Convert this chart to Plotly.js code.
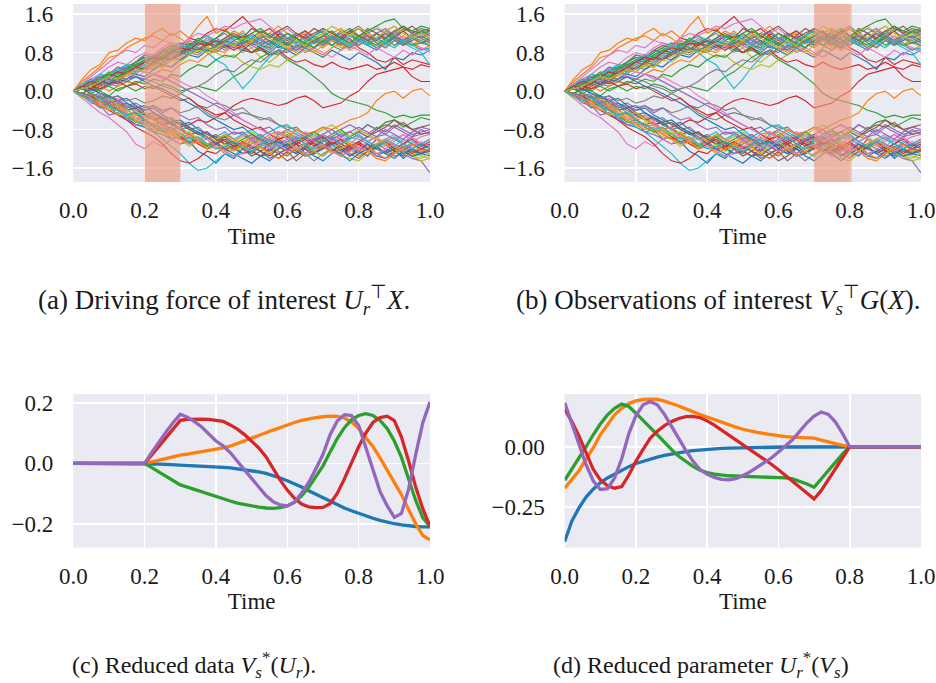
<!DOCTYPE html>
<html><head><meta charset="utf-8">
<script src="https://cdn.plot.ly/plotly-3.0.1.min.js"></script>
<style>html,body{margin:0;padding:0;background:#fff}#chart{width:936px;height:683px}</style>
</head><body><div id="chart"></div>
<script>
// ---------- data ----------
const walkTime = [0,0.025,0.05,0.075,0.1,0.125,0.15,0.175, 0.2,0.225,0.25,0.275,0.3,0.325,0.35,0.375, 0.4,0.425,0.45,0.475,0.5,0.525,0.55,0.575, 0.6,0.625,0.65,0.675,0.7,0.725,0.75,0.775, 0.8,0.825,0.85,0.875,0.9,0.925,0.95,0.975, 1.0];

const walkPaths = [
[0,-.1,-.2,-.35,-.3,-.5,-.55,-.7, -.75,-.85,-.8,-1.0,-1.1,-1.05,-1.25,-1.35, -1.5,-1.3,-1.4,-1.2,-1.3,-1.15,-1.25,-1.05, -1.2,-1.1,-1.3,-1.15,-1.0,-1.2,-1.3,-1.1, -1.25,-1.35,-1.15,-1.3,-1.2,-1.4,-1.25,-1.3, -1.2],
[0,.25,.45,.55,.8,.85,1.0,1.1, 1.05,1.2,1.3,1.15,1.25,1.1,1.35,1.55, 1.2,1.3,1.1,1.25,1.05,1.2,1.0,1.15, .95,1.1,1.2,1.0,.9,1.05,1.15,.95, 1.1,1.25,1.0,.9,1.05,1.15,1.0,.85, .95],
[0,.1,.2,.3,.25,.45,.5,.6, .7,.65,.8,.9,.85,1.0,.9,.8, .95,.85,1.0,.9,.8,.85,.75,.8, .65,.55,.45,.3,.15,-.05,-.15,-.2, -.25,-.3,-.4,-.45,-.55,-.5,-.55,-.5, -.5],
[0,-.05,-.15,-.1,-.3,-.35,-.5,-.45, -.6,-.7,-.65,-.8,-.75,-.7,-.6,-.65, -.55,-.45,-.3,-.2,-.15,-.2,-.25,-.3, -.25,-.15,-.1,-.2,-.35,-.3,-.25,-.1, 0.0,.2,.35,.4,.45,.5,.3,.2, .2],
[0,-.1,-.25,-.3,-.5,-.45,-.6,-.7, -.65,-.85,-.9,-1.0,-.95,-1.1,-1.0,-1.15, -1.05,-.95,-1.1,-1.2,-1.0,-1.15,-1.25,-1.1, -1.0,-1.2,-1.1,-1.3,-1.15,-1.05,-1.2,-1.35, -1.2,-1.1,-1.3,-1.25,-1.35,-1.3,-1.4,-1.45, -1.7],
[0,.05,.15,.3,.35,.5,.45,.6, .75,.7,.85,.95,.9,1.05,.95,1.1, 1.0,.9,1.05,1.15,1.0,1.1,.95,1.2, 1.1,1.0,1.15,1.3,1.2,1.05,1.15,1.25, 1.1,1.3,1.2,1.05,1.15,1.25,1.1,1.0, 1.1],
[0,-.15,-.3,-.45,-.55,-.7,-.85,-1.1, -1.2,-1.05,-1.15,-1.0,-1.1,-.95,-1.05,-1.2, -1.1,-.95,-1.05,-.9,-1.0,-1.15,-.95,-1.05, -1.2,-1.1,-.95,-1.05,-1.15,-1.0,-.9,-1.05, -1.1,-.95,-1.0,-1.15,-1.05,-.9,-1.0,-1.1, -1.0],
[0,.05,.1,0,.15,.1,.2,.15, .25,.2,.1,.05,-.05,-.15,-.3,-.45, -.55,-.6,-.5,-.45,-.5,-.55,-.6,-.7, -.75,-.8,-.9,-.85,-.95,-1.0,-.9,-.85, -.95,-1.05,-.95,-.9,-1.0,-1.1,-.95,-.9, -.85],
[0,.1,.05,.2,.3,.25,.4,.5, .55,.7,.65,.8,.9,.85,1.0,.9, 1.05,.95,.85,1.0,.9,.7,.6,.75, .85,.95,.8,.9,1.05,.95,1.1,1.25, 1.1,1.0,.9,1.05,1.15,1.0,.95,1.05, 1.1],
[0,-.1,-.05,-.2,-.35,-.4,-.55,-.6, -.75,-.85,-1.0,-1.15,-1.3,-1.5,-1.65,-1.6, -1.45,-1.3,-1.35,-1.2,-1.25,-1.1,-1.2,-1.05, -1.15,-1.0,-.95,-1.1,-1.0,-1.15,-1.05,-.95, -1.0,-1.1,-1.2,-1.05,-1.15,-1.0,-1.1,-1.2, -1.15],
[0,.1,.2,.15,.3,.4,.35,.5, .6,.55,.7,.8,.75,.9,.85,1.0, .9,1.05,.95,.85,1.0,.9,.8,.95, .85,.75,.9,.8,.7,.85,.75,.65, .8,.7,.6,.45,.7,.65,.8,.75, .85],
[0,-.05,-.15,-.25,-.2,-.35,-.45,-.55, -.6,-.75,-.7,-.85,-.95,-.9,-1.05,-1.15, -1.1,-1.25,-1.15,-1.2,-1.05,-1.15,-1.3,-1.2, -1.1,-1.25,-1.15,-1.0,-1.1,-1.2,-1.3,-1.2, -1.35,-1.25,-1.4,-1.45,-1.3,-1.2,-1.35,-1.25, -1.3],
[0,-.05,.05,0,-.1,.05,.1,0, .1,.05,.15,.1,0,.05,.1,.05, 0,.15,.3,.4,.55,.7,.8,.75, .9,.85,1.0,.9,1.05,.95,.85,1.0, 1.1,1.0,1.2,1.1,.95,1.05,1.15,1.25, 1.3],
[0,.05,.15,.2,.35,.3,.45,.55, .6,.75,.7,.85,.95,1.1,1.05,1.2, 1.3,1.25,1.4,1.55,1.35,1.2,1.3,1.15, 1.05,1.2,1.1,1.0,1.15,1.05,.95,1.1, .9,.8,.65,.6,.7,.55,.65,.6, .55],
[0,-.1,-.2,-.15,-.3,-.25,-.4,-.35, -.5,-.45,-.6,-.7,-.8,-.75,-.9,-.85, -1.0,-.95,-.85,-.9,-1.05,-.95,-1.1,-.9, -.8,-.9,-1.0,-.85,-.75,-.9,-.8,-.7, -.8,-.9,-.75,-.85,-.7,-.8,-.9,-.85, -.8],
[0,.05,-.05,-.15,-.1,-.25,-.35,-.3, -.45,-.55,-.7,-.65,-.8,-.9,-1.0,-1.1, -1.05,-1.2,-1.15,-1.3,-1.25,-1.35,-1.3,-1.4, -1.25,-1.45,-1.3,-1.2,-1.15,-1.0,-1.1,-.95, -.85,-.95,-.8,-.7,-.75,-.65,-.8,-.9, -.85],
[0,.15,.25,.35,.5,.6,.55,.7, .8,.75,.9,1.0,.95,1.1,1.2,1.15, 1.25,1.35,1.3,1.4,1.45,1.5,1.35,1.2, 1.3,1.15,1.25,1.1,1.2,1.05,1.15,1.0, 1.1,1.2,1.05,1.15,1.25,1.1,1.0,.9, .85],
[0,.05,.1,.2,.15,.3,.25,.4, .5,.45,.6,.7,.65,.8,.75,.9, .85,1.0,.95,1.1,1.0,1.15,1.05,.95, 1.1,1.2,1.05,1.15,1.3,1.2,1.1,1.25, 1.35,1.2,1.1,1.25,1.15,1.3,1.2,1.1, 1.2],
[0,-.15,-.1,-.25,-.35,-.3,-.45,-.6, -.55,-.75,-.85,-.95,-1.0,-1.15,-1.05,-1.2, -1.1,-1.0,-1.15,-1.05,-.95,-1.1,-1.0,-.85, -.95,-1.05,-.9,-1.0,-1.15,-1.25,-1.35,-1.4, -1.45,-1.3,-1.2,-1.1,-1.25,-1.15,-1.3,-1.35, -1.4],
[0,.1,.2,.35,.3,.4,.55,.5, .65,.6,.75,.85,.8,.95,.9,.8, .65,.55,.3,.05,.25,.5,.7,.85, .95,1.05,.9,1.0,1.1,.95,1.05,.9, 1.0,1.15,1.05,.95,1.1,1.0,.9,.8, .55],
[0,.05,0,.1,.2,.15,.25,.35, .3,.45,.55,.5,.65,.75,.7,.85, .8,.95,.9,1.0,1.1,.95,1.05,.9, 1.0,.85,.95,1.05,.95,1.1,1.0,.9, 1.05,.95,.85,1.0,1.1,.95,1.05,1.15, 1.05],
[0,.2,.35,.5,.7,.75,.9,1.0, 1.1,1.15,1.05,1.2,1.1,.95,1.05,1.15, 1.0,1.1,1.25,1.15,1.0,1.1,1.2,1.35, 1.2,1.1,1.25,1.15,1.05,1.2,1.3,1.15, 1.05,1.2,1.1,1.25,1.35,1.2,1.1,1.2, 1.15],
[0,-.05,-.2,-.3,-.25,-.4,-.5,-.65, -.6,-.75,-.85,-.8,-.95,-1.05,-1.0,-1.15, -1.05,-.95,-1.1,-1.0,-.9,-1.05,-1.15,-1.0, -.9,-1.05,-.95,-.85,-1.0,-.9,-.8,-.95, -.85,-.7,-.8,-.65,-.6,-.75,-.65,-.55, -.6],
[0,-.1,-.15,-.3,-.4,-.5,-.6,-.75, -.85,-.95,-1.1,-1.3,-1.45,-1.5,-1.4,-1.25, -1.3,-1.15,-1.2,-1.05,-1.15,-1.25,-1.1,-1.0, -1.15,-1.05,-.95,-1.1,-1.2,-1.05,-1.15,-1.25, -1.1,-1.2,-1.0,-1.1,-1.25,-1.15,-1.3,-1.2, -1.25],
[0,.1,.25,.2,.35,.5,.45,.6, .75,.7,.85,.8,.95,.9,1.05,.95, 1.1,1.0,.9,1.05,.95,.85,1.0,1.1, .95,.85,1.0,.9,1.05,1.15,1.0,.9, 1.05,.95,1.1,1.2,1.05,.95,1.1,1.25, 1.15],
[0,-.05,-.1,-.2,-.3,-.25,-.4,-.5, -.45,-.6,-.7,-.65,-.8,-.9,-.85,-1.0, -.9,-1.05,-1.15,-1.1,-1.25,-1.35,-1.2,-1.3, -1.45,-1.35,-1.2,-1.3,-1.15,-1.25,-1.1,-1.2, -1.05,-.95,-.85,-.75,-.6,-.7,-.8,-.75, -.7],
[0,.05,-.05,-.1,-.2,-.15,-.3,-.45, -.55,-.5,-.65,-.8,-.9,-.85,-1.0,-.95, -1.1,-1.2,-1.05,-1.15,-1.0,-.9,-1.05,-.95, -1.1,-1.0,-.85,-.95,-1.05,-.9,-1.0,-1.1, -.95,-1.05,-1.15,-1.0,-.9,-1.05,-.95,-1.1, -1.0],
[0,-.1,-.05,-.15,-.1,-.2,-.3,-.25, -.35,-.3,-.4,-.35,-.45,-.4,-.3,-.35, -.25,-.3,-.4,-.35,-.5,-.6,-.55,-.7, -.8,-.75,-.9,-1.0,-.95,-1.1,-1.0,-1.15, -1.05,-1.2,-1.1,-1.0,-1.15,-1.25,-1.1,-1.2, -1.15],
[0,.05,.15,.1,.25,.35,.3,.45, .55,.5,.65,.75,.7,.85,.95,.9, .8,.7,.75,.6,.5,.45,.55,.5, .65,.75,.85,.8,.95,1.05,.9,1.0, 1.1,1.25,1.35,1.2,1.1,1.0,1.15,1.05, .95],
[0,-.05,-.15,-.1,-.25,-.35,-.3,-.45, -.5,-.6,-.55,-.7,-.8,-.75,-.9,-1.0, -.95,-.85,-1.0,-.9,-.8,-.95,-.85,-.75, -.7,-.85,-.95,-.9,-1.05,-.95,-.85,-1.0, -.9,-1.05,-1.15,-1.0,-1.1,-1.2,-1.05,-1.15, -1.1],
[0,.1,.05,-.05,-.1,-.2,-.15,-.3, -.4,-.35,-.5,-.6,-.7,-.65,-.8,-.9, -.95,-1.1,-1.2,-1.3,-1.15,-1.25,-1.35,-1.2, -1.1,-1.25,-1.35,-1.3,-1.2,-1.1,-1.25,-1.15, -1.3,-1.2,-1.35,-1.4,-1.25,-1.35,-1.2,-1.3, -1.35],
[0,-.05,.05,.1,0,.1,.2,.15, .25,.35,.45,.4,.55,.65,.6,.75, .85,.8,.95,.9,1.05,.95,.85,1.0, .9,.8,.95,.85,.75,.9,1.0,.85, .95,1.05,.9,1.0,1.15,1.05,.95,1.1, 1.0],
[0,.1,.15,.25,.4,.35,.5,.6, .7,.65,.8,.9,1.0,.95,1.1,1.0, .9,1.05,1.15,1.0,1.1,1.25,1.15,1.05, 1.2,1.1,1.0,1.15,1.25,1.1,1.2,1.3, 1.15,1.25,1.35,1.45,1.5,1.3,1.25,1.35, 1.3],
[0,-.05,-.15,-.2,-.3,-.4,-.5,-.45, -.6,-.7,-.8,-.9,-1.0,-.95,-1.1,-1.2, -1.1,-1.0,-1.15,-1.05,-1.2,-1.1,-1.0,-1.15, -1.25,-1.1,-1.2,-1.05,-.95,-1.1,-1.0,-1.15, -1.05,-1.2,-1.1,-1.0,-1.15,-1.25,-1.1,-1.2, -1.1],
[0,.05,.1,.15,.1,.2,.25,.3, .25,.35,.3,.2,.1,0,-.1,-.2, -.3,-.4,-.5,-.6,-.7,-.8,-.75,-.9, -.85,-1.0,-.95,-1.05,-.9,-1.0,-1.1,-.95, -.85,-.7,-.8,-.9,-.75,-.85,-.95,-.8, -.9],
[0,.1,.05,.15,.25,.2,.35,.45, .4,.55,.5,.65,.75,.85,.8,.95, 1.05,1.0,1.15,1.1,1.2,1.05,.95,1.1, 1.0,1.15,1.25,1.1,1.0,1.15,1.05,1.2, 1.3,1.15,1.05,1.2,1.1,1.25,1.35,1.2, 1.1],
[0,.15,.3,.45,.6,.75,.85,.8, .95,.9,1.05,1.0,.9,1.05,.95,1.1, 1.0,.85,.95,.8,.9,1.0,.9,.75, .85,.95,.8,.9,.8,.7,.85,.95, .85,.75,.9,.8,.7,.85,.75,.9, .8],
[0,-.05,-.15,-.1,-.2,-.3,-.25,-.4, -.5,-.45,-.6,-.55,-.7,-.8,-.75,-.9, -1.0,-1.1,-1.05,-1.2,-1.1,-1.0,-1.15,-1.25, -1.35,-1.2,-1.3,-1.45,-1.3,-1.2,-1.35,-1.25, -1.15,-1.25,-1.1,-1.2,-1.3,-1.15,-1.25,-1.2, -1.25],
[0,-.1,-.2,-.3,-.35,-.5,-.45,-.6, -.7,-.65,-.8,-.9,-.85,-1.0,-.95,-1.1, -1.0,-.9,-1.05,-.95,-.85,-1.0,-1.1,-.95, -.85,-.95,-1.05,-.9,-.8,-.7,-.85,-.95, -.8,-.9,-1.0,-1.1,-1.2,-1.3,-1.35,-1.4, -1.3],
[0,.05,.15,.25,.2,.35,.45,.4, .55,.65,.6,.75,.85,.8,.95,1.05, 1.0,1.1,.95,1.05,1.15,1.05,.95,1.1, 1.2,1.05,.95,1.1,1.0,1.15,1.05,.95, 1.1,1.0,.9,1.05,1.15,1.0,1.1,1.05, .95],
[0,-.05,.05,-.05,-.15,-.1,-.25,-.35, -.3,-.45,-.55,-.65,-.6,-.75,-.85,-.95, -1.1,-1.2,-1.3,-1.4,-1.5,-1.35,-1.45,-1.3, -1.2,-1.3,-1.15,-1.25,-1.35,-1.2,-1.3,-1.45, -1.3,-1.2,-1.35,-1.25,-1.15,-1.3,-1.2,-1.1, -1.2],
[0,-.1,-.05,-.2,-.3,-.25,-.4,-.5, -.6,-.55,-.7,-.8,-.75,-.9,-1.0,-.95, -1.05,-.9,-1.0,-1.1,-.95,-1.05,-.9,-.85, -.95,-.8,-.9,-.85,-.75,-.8,-.7,-.6, -.55,-.45,-.2,-.05,0,-.15,0,.05, -.1],
[0,.05,-.05,.05,.1,0,.1,.2, .15,.25,.2,.35,.3,.45,.55,.5, .65,.75,.7,.85,.8,.95,.9,1.05, .95,1.1,1.0,.9,1.05,.95,1.1,1.2, 1.05,.95,1.1,1.0,1.15,1.05,.95,1.0, 1.05],
[0,.05,.1,.05,.15,.2,.1,.15, .05,.1,0,-.1,-.2,-.15,-.3,-.4, -.5,-.45,-.6,-.7,-.8,-.75,-.9,-1.0, -.95,-1.1,-1.0,-1.15,-1.05,-.95,-1.1,-1.2, -1.1,-1.25,-1.15,-1.05,-1.2,-1.1,-1.0,-1.15, -1.05],
[0,.1,.2,.3,.25,.4,.5,.45, .6,.55,.7,.8,.75,.9,1.0,.95, 1.1,1.2,1.05,.95,1.1,1.0,1.15,1.25, 1.1,1.0,1.15,1.05,.95,1.1,1.2,1.05, .95,1.1,1.2,1.3,1.15,1.05,1.2,1.1, 1.0],
[0,-.05,-.1,-.2,-.15,-.3,-.4,-.35, -.5,-.6,-.55,-.7,-.65,-.8,-.9,-.85, -1.0,-1.1,-1.05,-1.2,-1.35,-1.25,-1.4,-1.3, -1.2,-1.05,-1.15,-1.0,-1.1,-1.25,-1.15,-1.3, -1.4,-1.25,-1.15,-1.3,-1.2,-1.1,-1.2,-1.3, -1.2],
[0,.1,.15,.25,.2,.3,.35,.3, .4,.35,.25,.3,.2,.1,.05,-.1, -.2,-.35,-.45,-.6,-.7,-.8,-.9,-.85, -1.0,-.95,-1.1,-1.0,-.9,-1.05,-.95,-1.1, -1.2,-1.05,-.95,-1.1,-1.0,-.9,-1.05,-.95, -.9],
[0,.05,.15,.1,.2,.3,.4,.35, .5,.6,.55,.7,.8,.75,.9,.85, .95,1.05,1.15,1.05,.95,1.1,1.2,1.1, 1.0,.9,1.05,1.15,1.0,1.1,1.25,1.15, 1.05,1.2,1.3,1.2,1.1,1.0,1.15,1.25, 1.2],
[0,-.1,-.05,-.2,-.15,-.3,-.4,-.5, -.45,-.6,-.7,-.8,-.9,-.85,-1.0,-1.1, -1.2,-1.1,-1.25,-1.15,-1.05,-1.2,-1.3,-1.15, -1.05,-1.2,-1.1,-1.25,-1.35,-1.2,-1.1,-1.05, -1.15,-1.25,-1.1,-1.0,-1.15,-1.25,-1.35,-1.45, -1.4],
[0,.15,.25,.2,.35,.45,.55,.5, .65,.75,.7,.85,.95,.9,1.05,1.15, 1.05,.95,1.1,1.2,1.05,.95,.85,1.0, 1.1,.95,1.05,1.15,1.25,1.1,1.0,1.15, 1.05,.95,1.1,1.0,.9,1.05,.95,.85, .9],
[0,.05,.1,.2,.15,.25,.2,.3, .2,.1,.05,-.05,-.15,-.25,-.35,-.5, -.6,-.7,-.8,-.75,-.9,-1.0,-1.1,-1.05, -1.2,-1.3,-1.2,-1.35,-1.45,-1.3,-1.2,-1.35, -1.25,-1.1,-1.2,-1.3,-1.4,-1.25,-1.35,-1.3, -1.25],
[0,-.1,-.2,-.3,-.4,-.35,-.5,-.6, -.7,-.8,-.75,-.9,-1.0,-1.1,-1.05,-1.2, -1.15,-1.3,-1.2,-1.1,-1.25,-1.15,-1.3,-1.4, -1.3,-1.2,-1.35,-1.25,-1.15,-1.3,-1.2,-1.1, -1.25,-1.15,-1.3,-1.4,-1.3,-1.2,-1.1,-1.25, -1.2],
[0,.05,.15,.25,.35,.3,.45,.55, .65,.6,.75,.85,.8,.95,1.05,1.0, 1.1,1.25,1.15,1.05,1.2,1.3,1.15,1.05, 1.2,1.1,.95,1.05,1.15,1.25,1.1,1.0, 1.15,1.05,.95,1.1,1.2,1.35,1.25,1.2, 1.25],
[0,.1,.05,.2,.3,.4,.35,.5, .6,.7,.65,.8,.9,.85,1.0,.95, 1.05,.95,.85,.95,.8,.9,.75,.85, .7,.6,.65,.55,.5,.6,.5,.45, .5,.55,.45,.5,.6,.5,.45,.55, .5],
[0,-.1,-.05,-.15,-.25,-.2,-.35,-.3, -.4,-.3,-.45,-.35,-.5,-.6,-.55,-.7, -.8,-.75,-.9,-.85,-1.0,-.9,-1.05,-1.15, -1.05,-.95,-1.1,-1.0,-.9,-.8,-.95,-.85, -.75,-.85,-.95,-.8,-.9,-1.0,-.85,-.75, -.8],
[0,.1,.2,.15,.3,.25,.4,.5, .45,.6,.7,.65,.8,.9,.85,1.0, .95,1.1,1.2,1.1,1.3,1.2,1.1,1.25, 1.35,1.2,1.1,1.2,1.3,1.2,1.1,1.25, 1.15,1.05,1.2,1.1,1.25,1.35,1.2,1.3, 1.25],
[0,-.05,-.15,-.25,-.35,-.3,-.45,-.55, -.65,-.75,-.7,-.85,-.8,-.95,-1.05,-1.0, -1.15,-1.25,-1.35,-1.3,-1.15,-1.05,-1.2,-1.1, -1.25,-1.15,-1.3,-1.2,-1.1,-1.25,-1.35,-1.25, -1.15,-1.25,-1.35,-1.2,-1.1,-1.25,-1.15,-1.05, -1.15],
[0,-.05,-.1,-.05,-.15,-.1,-.2,-.15, -.25,-.2,-.1,-.15,-.05,.05,.1,.2, .35,.45,.4,.55,.65,.6,.75,.85, .8,.95,.9,1.05,.95,1.1,1.0,.9, 1.05,1.15,1.0,.9,1.05,.95,1.1,1.0, .95],
[0,.05,.1,.2,.3,.25,.35,.45, .4,.55,.5,.65,.6,.75,.85,.8, .9,1.0,.95,1.1,1.05,1.2,1.1,1.0, .9,1.05,.95,1.1,1.2,1.35,1.25,1.15, 1.3,1.2,1.1,1.25,1.35,1.2,1.1,1.2, 1.1],
[0,-.1,-.2,-.15,-.3,-.4,-.5,-.45, -.6,-.7,-.8,-.75,-.9,-1.0,-.95,-1.1, -1.2,-1.15,-1.05,-1.15,-1.25,-1.1,-1.0,-1.15, -1.05,-.95,-1.1,-1.2,-1.05,-.95,-1.1,-1.0, -.9,-1.05,-1.15,-1.05,-.95,-1.1,-1.2,-1.1, -1.0]
];

const curveTime = [0,0.02,0.04,0.06,0.08,0.1,0.12,0.14,0.16,0.18, 0.2,0.22,0.24,0.26,0.28,0.3,0.32,0.34,0.36,0.38, 0.4,0.42,0.44,0.46,0.48,0.5,0.52,0.54,0.56,0.58, 0.6,0.62,0.64,0.66,0.68,0.7,0.72,0.74,0.76,0.78, 0.8,0.82,0.84,0.86,0.88,0.9,0.92,0.94,0.96,0.98, 1.0];

// (c) Reduced data
const dataBlue   = [0,0,0,0,0,0,0,0,0,0, 0,-.001,-.002,-.003,-.004,-.005,-.006,-.007,-.008,-.009, -.011,-.013,-.015,-.018,-.021,-.024,-.028,-.033,-.040,-.048, -.057,-.067,-.078,-.090,-.102,-.114,-.126,-.137,-.147,-.156, -.165,-.173,-.181,-.188,-.194,-.199,-.203,-.206,-.208,-.209, -.209];
const dataOrange = [0,0,0,0,0,0,0,0,0,0, 0,.005,.011,.016,.022,.027,.031,.035,.039,.042, .046,.051,.057,.066,.075,.085,.094,.102,.110,.118, .127,.135,.142,.147,.151,.154,.156,.155,.150,.137, .115,.085,.056,.018,-.022,-.063,-.103,-.152,-.200,-.238, -.252];
const dataGreen  = [0,0,0,0,0,0,0,0,0,0, 0,-.014,-.028,-.043,-.057,-.071,-.078,-.086,-.094,-.102, -.110,-.117,-.124,-.131,-.136,-.140,-.144,-.147,-.148,-.146, -.140,-.128,-.107,-.079,-.045,-.008,.038,.082,.118,.144, .158,.164,.158,.142,.115,.074,.020,-.050,-.122,-.180, -.208];
const dataRed    = [0,0,0,0,0,0,0,0,0,0, 0,.028,.057,.085,.114,.142,.145,.146,.146,.145, .143,.139,.127,.113,.095,.074,.051,.022,-.017,-.055, -.088,-.115,-.134,-.143,-.146,-.145,-.133,-.099,-.051,.005, .055,.100,.135,.151,.156,.141,.087,.008,-.078,-.150, -.208];
const dataPurple = [0,0,0,0,0,0,0,0,0,0, 0,.036,.071,.104,.135,.162,.152,.138,.120,.097, .074,.058,.036,.007,-.022,-.052,-.081,-.106,-.126,-.137, -.140,-.128,-.098,-.063,-.018,.030,.095,.140,.161,.158, .125,.055,-.018,-.093,-.140,-.178,-.165,-.085,.030,.135, .203];

// (d) Reduced parameter
const parBlue   = [-.395,-.31,-.255,-.21,-.177,-.150,-.130,-.113,-.098,-.083, -.070,-.060,-.051,-.043,-.036,-.030,-.025,-.020,-.016,-.013, -.011,-.009,-.007,-.006,-.005,-.004,-.003,-.003,-.002,-.002, -.002,-.001,-.001,-.001,-.001,-.001,0,0,0,0, 0,0,0,0,0,0,0,0,0,0, 0];
const parOrange = [-.173,-.138,-.100,-.052,-.005,.050,.093,.133,.160,.180, .191,.197,.199,.197,.190,.181,.170,.158,.145,.134, .124,.113,.102,.091,.082,.073,.065,.060,.055,.050, .045,.042,.040,.039,.038,.036,.028,.020,.013,.006, 0,0,0,0,0,0,0,0,0,0, 0];
const parGreen  = [-.140,-.095,-.050,0,.050,.095,.133,.160,.178,.168, .140,.108,.080,.050,.018,-.012,-.040,-.062,-.082,-.098, -.108,-.114,-.118,-.121,-.122,-.123,-.124,-.125,-.126,-.127, -.128,-.130,-.134,-.143,-.155,-.169,-.133,-.097,-.063,-.030, 0,0,0,0,0,0,0,0,0,0, 0];
const parRed    = [.157,.105,.045,-.025,-.094,-.138,-.163,-.173,-.166,-.118, -.060,-.011,.035,.065,.088,.105,.118,.126,.127,.121, .108,.090,.070,.050,.031,.011,-.009,-.030,-.051,-.073, -.096,-.120,-.145,-.168,-.192,-.218,-.183,-.138,-.094,-.048, 0,0,0,0,0,0,0,0,0,0, 0];
const parPurple = [.183,.100,.012,-.075,-.142,-.178,-.175,-.130,-.050,.055, .130,.175,.188,.175,.135,.083,.035,-.015,-.060,-.095, -.115,-.128,-.136,-.138,-.133,-.121,-.105,-.087,-.068,-.047, -.022,.004,.030,.065,.100,.128,.145,.135,.103,.055, 0,0,0,0,0,0,0,0,0,0, 0];

const xTicks = [0, 0.2, 0.4, 0.6, 0.8, 1.0];
const yTicksWalk = [-1.6, -0.8, 0, 0.8, 1.6];
const yTicksData = [-0.2, 0, 0.2];
const yTicksPar = [-0.25, 0];
const shadeA = [0.2, 0.3];
const shadeB = [0.7, 0.805];

// ---------- styling ----------
const palette = ['#1f77b4','#ff7f0e','#2ca02c','#d62728','#9467bd','#8c564b','#e377c2','#7f7f7f','#bcbd22','#17becf'];
const FONT = 'Liberation Serif, Times New Roman, serif';
const W = 936, H = 683;
const tickFont = {family: FONT, size: 23, color: '#1a1a1a'};

const it = (s, sz) => `<span style="font-style:italic;font-size:${sz}px">${s}</span>`;
const sb = (s, sz) => `<sub><span style="font-style:italic;font-size:${Math.round(sz*0.7)}px">${s}</span></sub>`;
const sp = (s, sz) => `<sup><span style="font-size:${Math.round(sz*0.7)}px">${s}</span></sup>`;
const TOP = 27, BOT = 24;
const captions = [
  `(a) Driving force of interest ${it('U',TOP)}${sb('r',TOP)}${sp('⊤',TOP)}${it('X',TOP)}.`,
  `(b) Observations of interest ${it('V',TOP)}${sb('s',TOP)}${sp('⊤',TOP)}${it('G',TOP)}(${it('X',TOP)}).`,
  `(c) Reduced data ${it('V',BOT)}${sb('s',BOT)}${sp('*',BOT)}(${it('U',BOT)}${sb('r',BOT)}).`,
  `(d) Reduced parameter ${it('U',BOT)}${sb('r',BOT)}${sp('*',BOT)}(${it('V',BOT)}${sb('s',BOT)})`
];

const traces = [];
[['x','y'],['x2','y2']].forEach(([xa, ya]) => {
  walkPaths.forEach((p, i) => {
    traces.push({x: walkTime, y: p, xaxis: xa, yaxis: ya, type: 'scatter', mode: 'lines',
      line: {color: palette[i % 10], width: 1.15}, hoverinfo: 'skip', showlegend: false});
  });
});
[dataBlue, dataOrange, dataGreen, dataRed, dataPurple].forEach((s, i) => {
  traces.push({x: curveTime, y: s, xaxis: 'x3', yaxis: 'y3', type: 'scatter', mode: 'lines',
    line: {color: palette[i], width: 3.3}, showlegend: false});
});
[parBlue, parOrange, parGreen, parRed, parPurple].forEach((s, i) => {
  traces.push({x: curveTime, y: s, xaxis: 'x4', yaxis: 'y4', type: 'scatter', mode: 'lines',
    line: {color: palette[i], width: 3.3}, showlegend: false});
});

const px = v => v / W;
const py = v => 1 - v / H;
const colA = [px(73.3), px(430)], colB = [px(564.7), px(921)];
const rowTop = [py(182), py(4)], rowBot = [py(547.7), py(394)];

function xAxis(dom, anchor) {
  return {domain: dom, anchor: anchor, range: [0, 1], tickvals: xTicks, tickformat: '.1f',
    showgrid: true, gridcolor: '#ffffff', gridwidth: 1.6, zeroline: false, showline: false,
    ticks: '', ticklabelstandoff: 12, tickfont: tickFont, fixedrange: true,
    title: {text: 'Time', font: {family: FONT, size: 23, color: '#1a1a1a'}, standoff: 5}};
}
function yAxis(dom, anchor, range, vals, fmt) {
  return {domain: dom, anchor: anchor, range: range, tickvals: vals, tickformat: fmt,
    showgrid: true, gridcolor: '#ffffff', gridwidth: 1.6, zeroline: false, showline: false,
    ticks: '', ticklabelstandoff: 19, tickfont: tickFont, fixedrange: true};
}

const shade = (xr, x0, x1) => ({type: 'rect', xref: xr, yref: xr.replace('x','y') + ' domain',
  x0: x0, x1: x1, y0: 0, y1: 1, fillcolor: 'rgba(233,150,122,0.62)', line: {width: 0}, layer: 'above'});

const cap = (text, cx, cy, sz, anchor) => ({text: text, x: px(cx), y: py(cy), xref: 'paper', yref: 'paper',
  xanchor: anchor || 'center', yanchor: 'middle', showarrow: false, font: {family: FONT, size: sz, color: '#1a1a1a'}});

const layout = {
  width: W, height: H, margin: {l: 0, r: 0, t: 0, b: 0},
  paper_bgcolor: '#ffffff', plot_bgcolor: '#EAEAF2', showlegend: false,
  xaxis: xAxis(colA, 'y'), yaxis: yAxis(rowTop, 'x', [-1.89, 1.81], yTicksWalk, '.1f'),
  xaxis2: xAxis(colB, 'y2'), yaxis2: yAxis(rowTop, 'x2', [-1.89, 1.81], yTicksWalk, '.1f'),
  xaxis3: xAxis(colA, 'y3'), yaxis3: yAxis(rowBot, 'x3', [-0.278, 0.229], yTicksData, '.1f'),
  xaxis4: xAxis(colB, 'y4'), yaxis4: yAxis(rowBot, 'x4', [-0.421, 0.22], yTicksPar, '.2f'),
  shapes: [shade('x', shadeA[0], shadeA[1]), shade('x2', shadeB[0], shadeB[1])],
  annotations: [cap(captions[0], 224, 300, TOP), cap(captions[1], 718, 300, TOP),
                cap(captions[2], 318, 665, BOT, 'right'), cap(captions[3], 551, 665, BOT, 'left')]
};

Plotly.newPlot('chart', traces, layout, {displayModeBar: false, staticPlot: true});
</script></body></html>
